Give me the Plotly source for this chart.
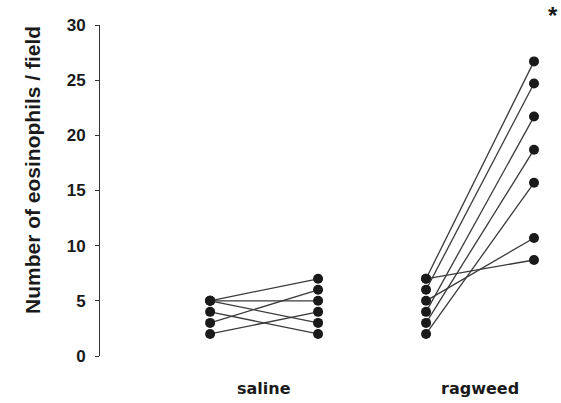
import plotly.graph_objects as go

# Data
groups = ["saline", "ragweed"]
saline_before = [5, 5, 5, 4, 3, 2]
saline_after = [7, 5, 3, 2, 6, 4]
ragweed_before = [7, 7, 6, 5, 4, 3, 2]
ragweed_after = [26.7, 8.7, 24.7, 10.7, 21.7, 18.7, 15.7]
y_ticks = [0, 5, 10, 15, 20, 25, 30]

# x positions for (before, after) of each group
pos = {"saline": (0, 1), "ragweed": (2, 3)}

fig = go.Figure()
line_col = "#3a3a3a"
mark_col = "#1a1a1a"

for g, before, after in [("saline", saline_before, saline_after),
                         ("ragweed", ragweed_before, ragweed_after)]:
    x0, x1 = pos[g]
    for b, a in zip(before, after):
        fig.add_trace(go.Scatter(
            x=[x0, x1], y=[b, a], mode="lines+markers",
            line=dict(color=line_col, width=1.3),
            marker=dict(color=mark_col, size=10),
            showlegend=False, hoverinfo="skip"))

font = "Liberation Sans, Arial, sans-serif"
wide = "DejaVu Sans, sans-serif"

fig.update_layout(
    width=561, height=403,
    margin=dict(l=100, r=0, t=25, b=47),
    paper_bgcolor="white", plot_bgcolor="white",
    xaxis=dict(range=[-1.02, 3.25], showgrid=False, zeroline=False,
               showline=False, showticklabels=False, ticks=""),
    yaxis=dict(range=[0, 30], tickvals=y_ticks, showgrid=False, zeroline=False,
               showline=True, linecolor="#333", linewidth=1,
               ticks="outside", ticklen=4, tickcolor="#333",
               tickfont=dict(family=font, size=17, color="#1a1a1a", weight="bold"),
               ticklabelstandoff=6),
    font=dict(family=font),
)

pw, ph = 561 - 100, 403 - 25 - 47
annotations = [
    dict(x=(32 - 100) / pw, y=(403 - 47 - 170) / ph, xref="paper", yref="paper",
         text="Number of eosinophils / field", textangle=-90, showarrow=False,
         xanchor="center", yanchor="middle",
         font=dict(family=font, size=21, color="#1a1a1a", weight="bold")),
    dict(x=0.5, y=(403 - 47 - 388) / ph, xref="x", yref="paper", text="saline",
         showarrow=False, yanchor="middle",
         font=dict(family=wide, size=16, color="#1a1a1a", weight="bold")),
    dict(x=2.5, y=(403 - 47 - 388) / ph, xref="x", yref="paper", text="ragweed",
         showarrow=False, yanchor="middle",
         font=dict(family=wide, size=16, color="#1a1a1a", weight="bold")),
    dict(x=(553 - 100) / pw, y=(403 - 47 - 16) / ph, xref="paper", yref="paper",
         text="*", showarrow=False, xanchor="center", yanchor="middle",
         font=dict(family=font, size=24, color="#1a1a1a", weight="bold")),
]
fig.update_layout(annotations=annotations)

fig.write_html("out.html")
